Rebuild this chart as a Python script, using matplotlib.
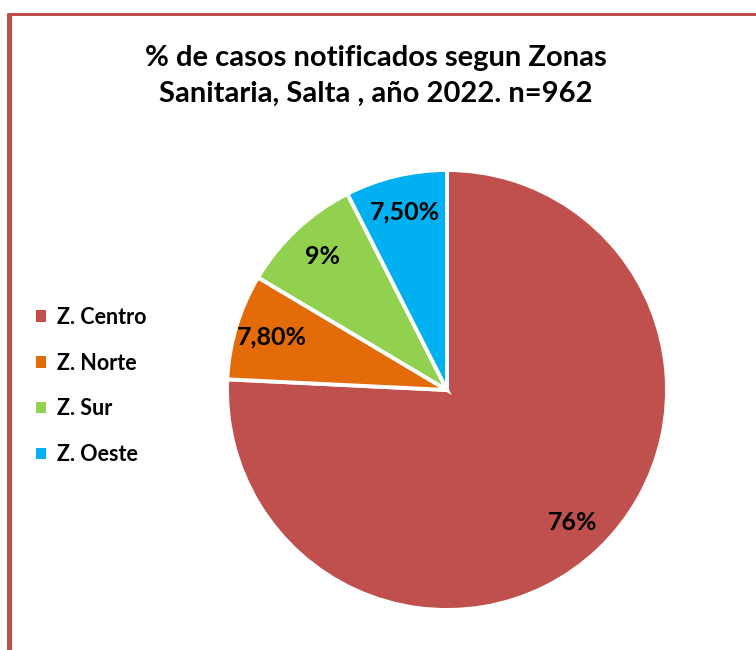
import matplotlib
matplotlib.use("Agg")
import matplotlib.pyplot as plt
from matplotlib.lines import Line2D
from matplotlib.patches import Patch
import numpy as np

categories = ["Z. Centro", "Z. Norte", "Z. Sur", "Z. Oeste"]
values = [76, 7.8, 9, 7.5]
value_labels = ["76%", "7,80%", "9%", "7,50%"]
colors = ["#C0504D", "#E36C09", "#92D050", "#00B0F0"]
title = "% de casos notificados segun Zonas\nSanitaria, Salta , año 2022. n=962"

plt.rcParams['font.family'] = ['Lato', 'DejaVu Sans']

W, H = 756, 650
fig = plt.figure(figsize=(W / 100, H / 100), dpi=100)

# pie axes
cx, cy, r = 447, 390, 220
ax = fig.add_axes([(cx - r) / W, (H - cy - r) / H, 2 * r / W, 2 * r / H])
wedges, _ = ax.pie(values, colors=colors, startangle=90, counterclock=False,
                   radius=1, wedgeprops=dict(edgecolor="white", linewidth=2.8))
for w in wedges:
    w.set_clip_on(False)
total = sum(values)
ang = 90.0
for v, lab in zip(values, value_labels):
    span = 360.0 * v / total
    mid = np.deg2rad(ang - span / 2)
    ax.text(0.83 * np.cos(mid), 0.83 * np.sin(mid), lab, ha="center", va="center",
            fontsize=18, fontweight="bold", color="black")
    ang -= span
ax.set_xlim(-1.0, 1.0)
ax.set_ylim(-1.0, 1.0)
ax.set_aspect("equal")
ax.axis("off")

# title
fig.text(376 / W, 1 - 76 / H, title, ha="center", va="center", fontsize=21,
         fontweight="bold", linespacing=1.45)

# legend
handles = [Patch(facecolor=c, edgecolor="none") for c in colors]
leg = fig.legend(handles, categories, loc="center left", bbox_to_anchor=(17 / W, 1 - 386 / H),
                 frameon=False, prop=dict(size=15.5, weight="bold"), handlelength=0.45,
                 handleheight=0.45, handletextpad=0.5, labelspacing=1.15)

# border
bc = "#C0504D"
fig.add_artist(Line2D([9.2 / W, 9.2 / W], [0, 1 - 13 / H], transform=fig.transFigure,
                      color=bc, linewidth=3.6, solid_capstyle="butt"))
fig.add_artist(Line2D([6.7 / W, 1], [1 - 14.2 / H, 1 - 14.2 / H], transform=fig.transFigure,
                      color=bc, linewidth=2.2, solid_capstyle="butt"))

fig.savefig("out.png", dpi=100, facecolor="white")
